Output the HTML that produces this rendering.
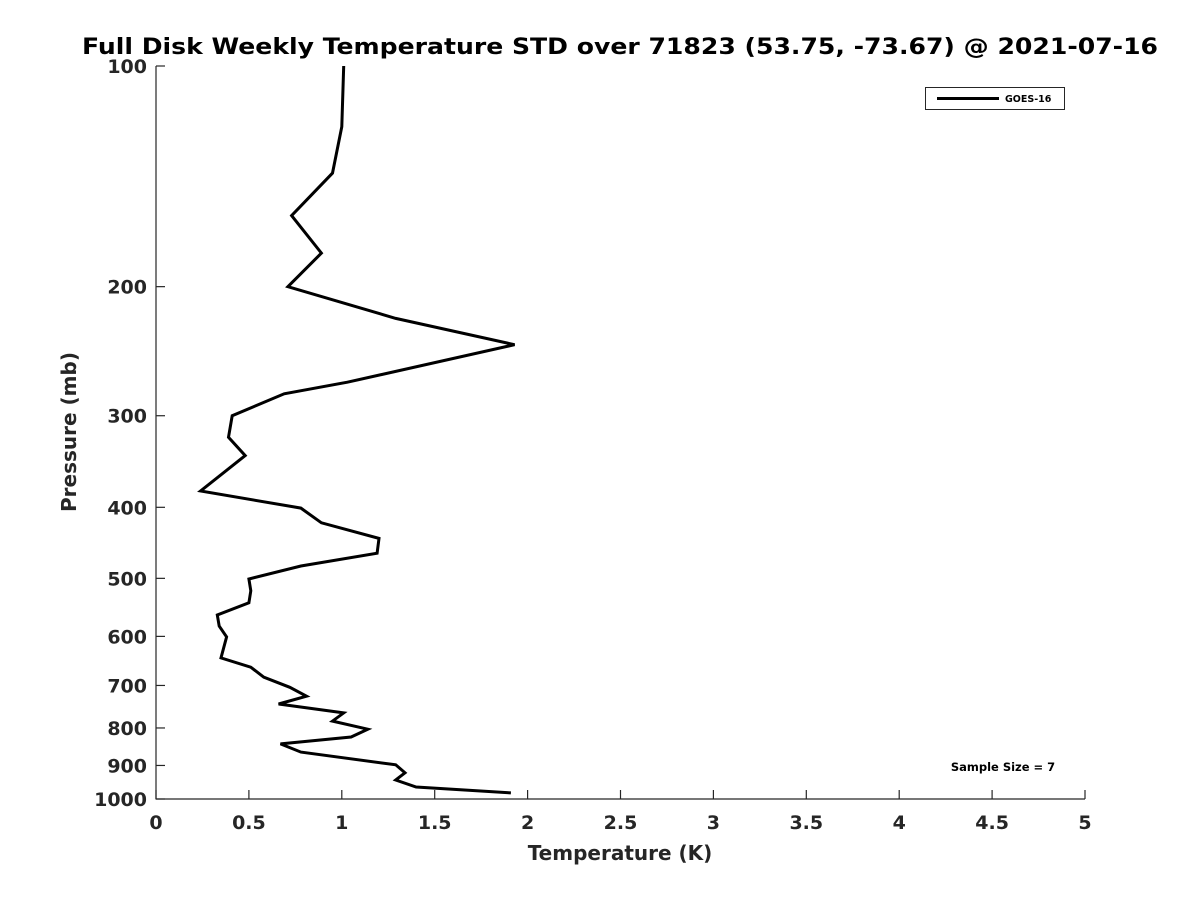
<!DOCTYPE html>
<html><head><meta charset="utf-8"><style>
html,body{margin:0;padding:0;background:#fff;}
svg{display:block;font-family:"DejaVu Sans","Liberation Sans",sans-serif;}
</style></head><body>
<svg id="chart" width="1200" height="900" viewBox="0 0 1200 900" xmlns="http://www.w3.org/2000/svg">
<rect width="1200" height="900" fill="#fff"/>
<text x="620" y="54" text-anchor="middle" font-size="22" font-weight="bold" fill="#000" textLength="1076" lengthAdjust="spacingAndGlyphs">Full Disk Weekly Temperature STD over 71823 (53.75, -73.67) @ 2021-07-16</text>
<g id="axes"></g>
<g id="series"></g>
<text x="620" y="860" text-anchor="middle" font-size="20" font-weight="bold" fill="#262626">Temperature (K)</text>
<text transform="translate(76,432) rotate(-90)" text-anchor="middle" font-size="20" font-weight="bold" fill="#262626">Pressure (mb)</text>
<g>
<rect x="925.5" y="87.5" width="139" height="22" fill="#fff" stroke="#262626" stroke-width="1"/>
<line x1="937" y1="98.5" x2="999" y2="98.5" stroke="#000" stroke-width="3"/>
<text x="1005" y="102" font-size="9.5" font-weight="bold" fill="#000">GOES-16</text>
</g>
<text x="1003" y="771" text-anchor="middle" font-size="11.5" font-weight="bold" fill="#000">Sample Size = 7</text>
</svg>
<script>
const temps = [1.01,1.00,0.95,0.73,0.89,0.71,1.29,1.93,1.03,0.69,0.41,0.39,0.48,0.24,0.78,0.89,1.20,1.19,0.78,0.50,0.51,0.50,0.33,0.34,0.38,0.35,0.51,0.58,0.72,0.81,0.66,1.01,0.95,1.14,1.05,0.67,0.78,1.29,1.34,1.29,1.40,1.91];
const pressures = [100,121,140,160,180,200,221,240,270,280,300,321,340,380,401,420,441,462,481,501,520,540,561,581,601,642,661,682,704,724,742,763,783,803,823,841,863,898,921,942,963,981];
const xTicks = [0,0.5,1,1.5,2,2.5,3,3.5,4,4.5,5];
const xTickLabels = ["0","0.5","1","1.5","2","2.5","3","3.5","4","4.5","5"];
const yTicks = [100,200,300,400,500,600,700,800,900,1000];
const yTickLabels = ["100","200","300","400","500","600","700","800","900","1000"];

const X0=156,X1=1085,Y0=66,Y1=799;
function xs(v){return X0+(v-0)/(5-0)*(X1-X0);}
function ys(p){return Y0+(Math.log10(p)-2)/(3-2)*(Y1-Y0);}
const NS="http://www.w3.org/2000/svg";
function mk(t,a,parent){const e=document.createElementNS(NS,t);for(const k in a)e.setAttribute(k,a[k]);parent.appendChild(e);return e;}
const axes=document.getElementById('axes');
let l=mk('line',{x1:X0,y1:Y0,x2:X0,y2:Y1+0.5,stroke:'#262626','stroke-width':1.2},axes);


l=mk('line',{x1:X0,y1:Y1,x2:X1,y2:Y1,stroke:'#262626','stroke-width':1.2},axes);


xTicks.forEach((v,i)=>{
  const x=xs(v);
  const t=mk('line',{x1:x,y1:Y1,x2:x,y2:Y1-9,stroke:'#262626','stroke-width':1.2},axes);
  
  
  const tx=mk('text',{x:x,y:Y1+30,'text-anchor':'middle','font-size':19,'font-weight':'bold',fill:'#262626'},axes);
  tx.textContent=xTickLabels[i];
  
  
});
yTicks.forEach((v,i)=>{
  const y=ys(v);
  const t=mk('line',{x1:X0,y1:y,x2:X0+9,y2:y,stroke:'#262626','stroke-width':1.2},axes);
  
  
  const tx=mk('text',{x:X0-9,y:y+7,'text-anchor':'end','font-size':19,'font-weight':'bold',fill:'#262626'},axes);
  tx.textContent=yTickLabels[i];
  
  
});
const series=document.getElementById('series');
const pts=temps.map((t,i)=>xs(t).toFixed(1)+','+ys(pressures[i]).toFixed(1)).join(' ');
const pl=mk('polyline',{points:pts,fill:'none',stroke:'#000','stroke-width':3,'stroke-linejoin':'miter'},series);


</script>
</body></html>
